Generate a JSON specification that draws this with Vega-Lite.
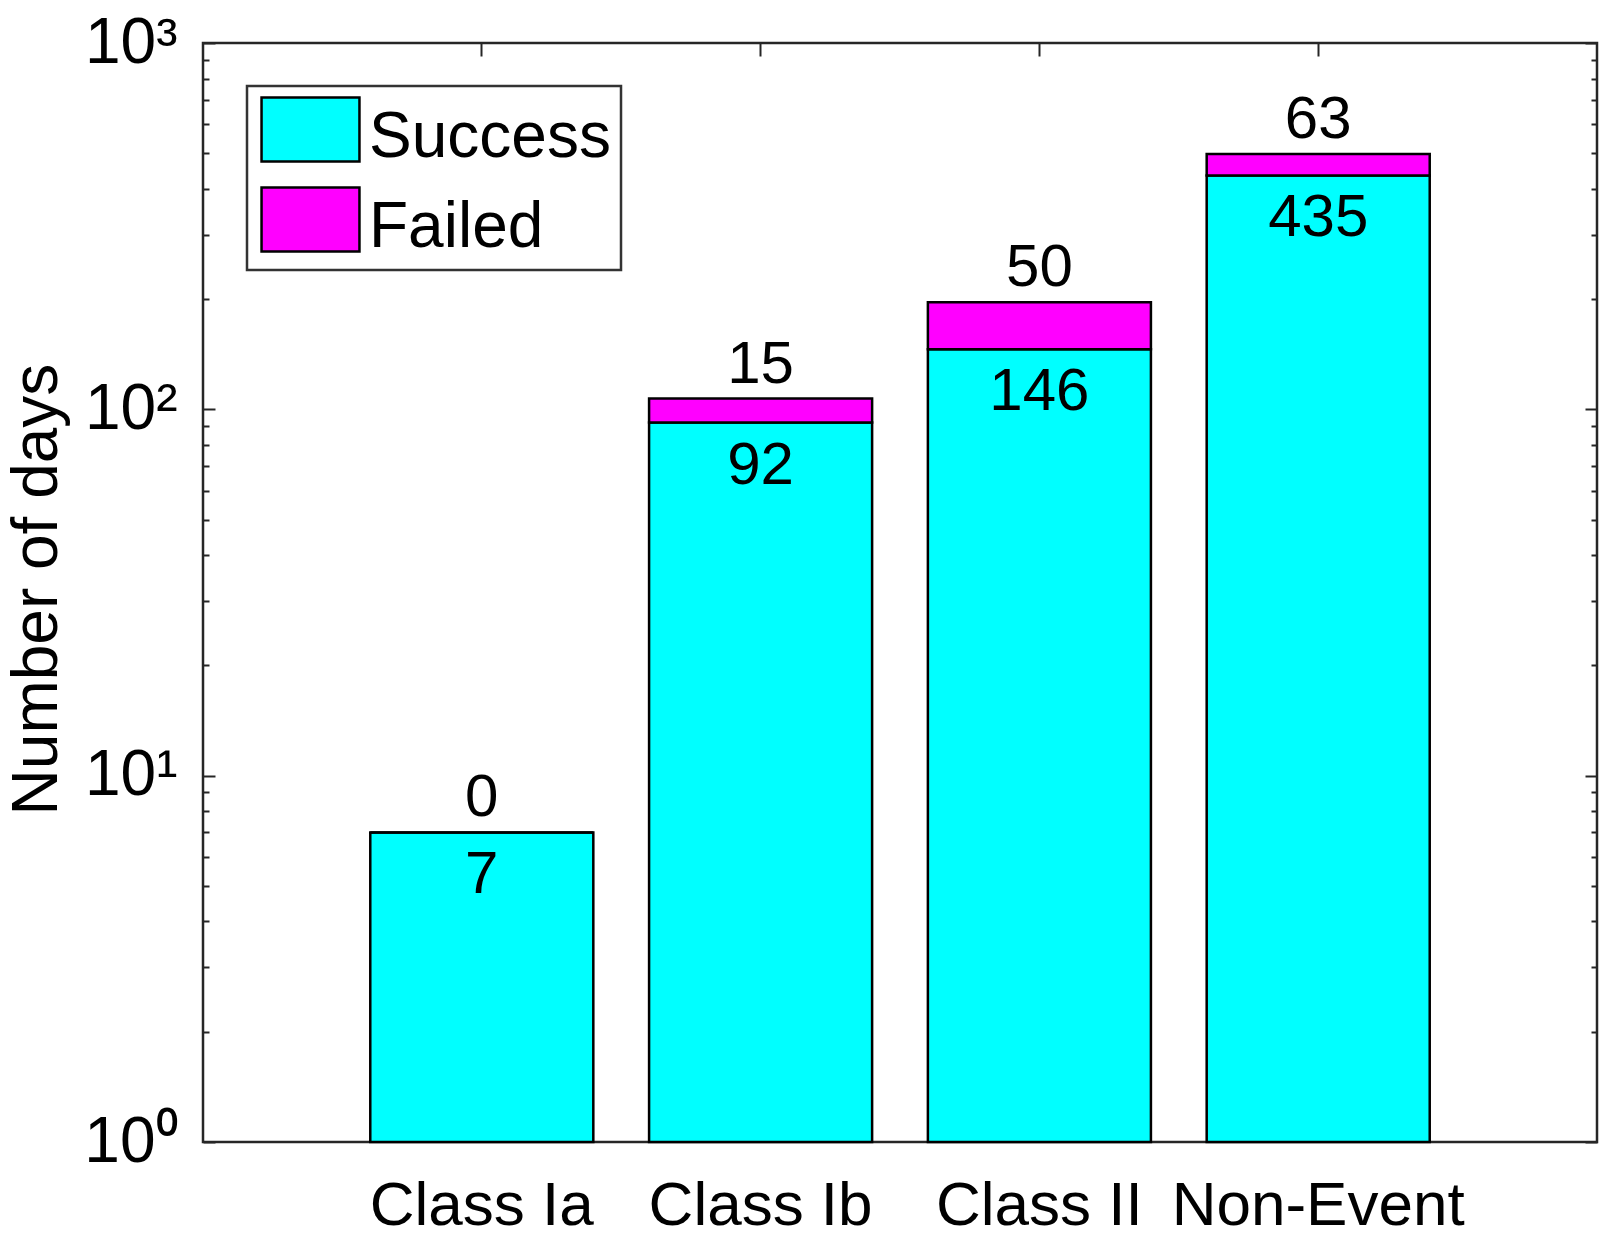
{
  "$schema": "https://vega.github.io/schema/vega-lite/v6.json",
  "description": "Stacked bars on a log axis: success and failed days per class.",
  "width": 1394,
  "height": 1099,
  "autosize": "none",
  "padding": {"left": 203, "top": 43, "right": 7, "bottom": 95},
  "background": "white",
  "config": {
    "font": "Liberation Sans",
    "view": {"stroke": "#262626", "strokeWidth": 2.5},
    "axis": {
      "domain": false,
      "grid": false,
      "tickColor": "#262626",
      "tickWidth": 2,
      "labelColor": "black",
      "titleColor": "black",
      "labelFont": "Liberation Sans",
      "titleFont": "Liberation Sans",
      "labelLimit": 0
    },
    "text": {"font": "Liberation Sans", "fontSize": 60, "color": "black"}
  },
  "data": {
    "values": [
      {"class": "Class Ia", "success": 7, "failed": 0, "total": 7},
      {"class": "Class Ib", "success": 92, "failed": 15, "total": 107},
      {"class": "Class II", "success": 146, "failed": 50, "total": 196},
      {"class": "Non-Event", "success": 435, "failed": 63, "total": 498}
    ]
  },
  "layer": [
    {
      "mark": {"type": "bar", "stroke": "black", "strokeWidth": 2.5},
      "encoding": {
        "x": {
          "field": "class",
          "type": "nominal",
          "sort": null,
          "scale": {"paddingInner": 0.2, "paddingOuter": 0.6},
          "axis": {
            "orient": "bottom",
            "title": null,
            "ticks": false,
            "labelAngle": 0,
            "labelFontSize": 62,
            "labelBaseline": "alphabetic",
            "labelPadding": 82
          }
        },
        "y": {
          "field": "success",
          "type": "quantitative",
          "scale": {"type": "log", "domain": [1, 1000], "nice": false},
          "axis": {
            "orient": "left",
            "values": [1, 10, 100, 1000],
            "tickSize": -12,
            "labelPadding": 38,
            "labelFontSize": 64,
            "labelBaseline": "middle",
            "labelExpr": "datum.value == 1 ? '10⁰' : datum.value == 10 ? '10¹' : datum.value == 100 ? '10²' : '10³'",
            "title": "Number of days",
            "titleFontSize": 64,
            "titleFontWeight": "normal",
            "titleAngle": -90,
            "titleAlign": "center",
            "titleBaseline": "middle",
            "titleX": -166,
            "titleY": 546
          }
        },
        "y2": {"datum": 1},
        "color": {
          "datum": "Success",
          "type": "nominal",
          "scale": {"domain": ["Success", "Failed"], "range": ["#00ffff", "#ff00ff"]},
          "legend": {
            "title": null,
            "orient": "none",
            "legendX": 44,
            "legendY": 43,
            "direction": "vertical",
            "fillColor": "white",
            "strokeColor": "#333333",
            "padding": 10,
            "rowPadding": 12,
            "symbolType": "M-1.53,-1H1.53V1H-1.53Z",
            "symbolSize": 4096,
            "symbolStrokeColor": "black",
            "symbolStrokeWidth": 2.5,
            "symbolOpacity": 1,
            "symbolOffset": 20,
            "labelOffset": 25,
            "labelFontSize": 64,
            "labelFont": "Liberation Sans",
            "labelColor": "black",
            "labelLimit": 0,
            "encode": {
              "legend": {"update": {"strokeWidth": {"value": 2.5}}},
              "labels": {"update": {"dy": {"value": 8}}}
            }
          }
        }
      }
    },
    {
      "mark": {"type": "bar", "stroke": "black", "strokeWidth": 2.5},
      "encoding": {
        "x": {
          "field": "class",
          "type": "nominal",
          "sort": null,
          "axis": {
            "orient": "top",
            "title": null,
            "labels": false,
            "tickSize": -13
          }
        },
        "y": {
          "field": "total",
          "type": "quantitative",
          "axis": {
            "orient": "left",
            "values": [2, 3, 4, 5, 6, 7, 8, 9, 20, 30, 40, 50, 60, 70, 80, 90, 200, 300, 400, 500, 600, 700, 800, 900],
            "tickSize": -6,
            "labels": false,
            "title": null
          }
        },
        "y2": {"field": "success"},
        "color": {"datum": "Failed", "type": "nominal"}
      }
    },
    {
      "mark": {"type": "text", "baseline": "alphabetic", "dy": -16},
      "encoding": {
        "x": {"field": "class", "type": "nominal", "sort": null, "axis": null},
        "y": {
          "field": "total",
          "type": "quantitative",
          "axis": {
            "orient": "right",
            "values": [1, 10, 100, 1000],
            "tickSize": -12,
            "labels": false,
            "title": null
          }
        },
        "text": {"field": "failed", "type": "quantitative"}
      }
    },
    {
      "mark": {"type": "text", "baseline": "alphabetic", "dy": 61},
      "encoding": {
        "x": {"field": "class", "type": "nominal", "sort": null, "axis": null},
        "y": {
          "field": "success",
          "type": "quantitative",
          "axis": {
            "orient": "right",
            "values": [2, 3, 4, 5, 6, 7, 8, 9, 20, 30, 40, 50, 60, 70, 80, 90, 200, 300, 400, 500, 600, 700, 800, 900],
            "tickSize": -6,
            "labels": false,
            "title": null
          }
        },
        "text": {"field": "success", "type": "quantitative"}
      }
    }
  ],
  "resolve": {"axis": {"x": "independent", "y": "independent"}}
}
